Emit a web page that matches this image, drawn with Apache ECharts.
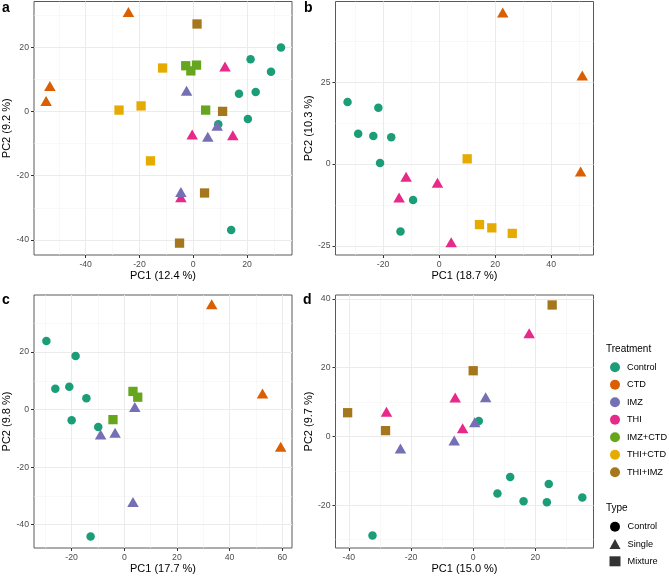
<!DOCTYPE html>
<html>
<head>
<meta charset="utf-8">
<script src="https://cdn.jsdelivr.net/npm/echarts@6/dist/echarts.min.js"></script>
<style>html,body{margin:0;padding:0;background:#fff}#c{width:669px;height:577px}</style>
</head>
<body>
<div id="c"></div>
<script>
// ---------- Data ----------
const treatments = ['Control','CTD','IMZ','THI','IMZ+CTD','THI+CTD','THI+IMZ'];
const treatmentColors = ['#1B9E77','#D95F02','#7570B3','#E7298A','#66A61E','#E6AB02','#A6761D'];
const treatmentTypes = ['Control','Single','Single','Single','Mixture','Mixture','Mixture'];
const typeNames = ['Control','Single','Mixture'];
const panelLetters = ['a','b','c','d'];
const xTitles = ['PC1 (12.4 %)','PC1 (18.7 %)','PC1 (17.7 %)','PC1 (15.0 %)'];
const yTitles = ['PC2 (9.2 %)','PC2 (10.3 %)','PC2 (9.8 %)','PC2 (9.7 %)'];

// panel a
const aControl = [[32.6,19.9],[21.3,16.2],[28.9,12.3],[17.0,5.5],[23.2,6.0],[20.3,-2.4],[9.3,-4.0],[14.1,-36.9]];
const aCTD = [[-24.1,30.9],[-53.3,7.9],[-54.7,3.2]];
const aTHI = [[11.8,14.0],[-0.4,-7.2],[14.7,-7.4],[-4.6,-26.7]];
const aIMZ = [[-2.5,6.4],[8.9,-4.5],[5.4,-7.9],[-4.6,-25.1]];
const aIMZCTD = [[-2.8,14.2],[1.2,14.4],[-0.9,12.6],[4.6,0.4]];
const aTHICTD = [[-11.4,13.5],[-19.4,1.7],[-27.6,0.4],[-15.9,-15.4]];
const aTHIIMZ = [[1.4,27.2],[10.9,0.0],[4.2,-25.4],[-5.1,-41.0]];
// panel b
const bControl = [[-32.7,19.0],[-21.7,17.2],[-28.9,9.3],[-23.5,8.6],[-17.1,8.2],[-21.1,0.3],[-9.3,-11.0],[-13.8,-20.6]];
const bCTD = [[22.7,46.3],[51.1,27.1],[50.5,-2.3]];
const bTHI = [[-11.8,-3.9],[-14.3,-10.2],[-0.6,-5.7],[4.3,-23.9]];
const bTHICTD = [[10.0,1.6],[14.4,-18.5],[18.8,-19.5],[26.1,-21.2]];
// panel c
const cControl = [[-29.6,23.8],[-18.5,18.6],[-26.2,7.2],[-20.9,7.9],[-14.4,3.9],[-20.0,-3.7],[-9.9,-6.1],[-12.8,-44.1]];
const cCTD = [[33.2,36.6],[52.5,5.6],[59.4,-12.9]];
const cIMZ = [[4.0,0.9],[-9.0,-8.7],[-3.5,-8.1],[3.3,-32.1]];
const cIMZCTD = [[3.3,6.3],[5.1,4.3],[-4.3,-3.5]];
// panel d
const dControl = [[1.8,4.5],[11.9,-11.8],[7.8,-16.6],[16.2,-18.8],[24.3,-13.8],[23.7,-19.1],[35.1,-17.7],[-32.4,-28.8]];
const dTHI = [[18.0,30.0],[-5.8,11.3],[-27.9,7.2],[-3.4,2.4]];
const dIMZ = [[4.0,11.4],[0.5,4.1],[-6.1,-1.2],[-23.4,-3.5]];
const dTHIIMZ = [[25.4,38.2],[0.0,19.1],[-40.4,6.9],[-28.2,1.7]];

// axis ranges and breaks
const xMin = [-59.2,-37.0,-34.3,-44.3];
const xMax = [36.7,55.1,63.7,38.7];
const yMin = [-44.7,-27.8,-48.1,-32.4];
const yMax = [34.2,49.7,39.8,41.1];
const xMajor = [[-40,-20,0,20],[-20,0,20,40],[-20,0,20,40,60],[-40,-20,0,20]];
const xMinor = [[-50,-30,-10,10,30],[-30,-10,10,30,50],[-30,-10,10,30,50],[-30,-10,10,30]];
const yMajor = [[-40,-20,0,20],[-25,0,25],[-40,-20,0,20,40],[-20,0,20,40]];
const yMinor = [[-30,-10,10,30],[-12.5,12.5,37.5],[-30,-10,10,30],[-30,-10,10,30]];

// ---------- Build ----------
const panelSeries = [
  {Control:aControl, CTD:aCTD, THI:aTHI, IMZ:aIMZ, 'IMZ+CTD':aIMZCTD, 'THI+CTD':aTHICTD, 'THI+IMZ':aTHIIMZ},
  {Control:bControl, CTD:bCTD, THI:bTHI, 'THI+CTD':bTHICTD},
  {Control:cControl, CTD:cCTD, IMZ:cIMZ, 'IMZ+CTD':cIMZCTD},
  {Control:dControl, THI:dTHI, IMZ:dIMZ, 'THI+IMZ':dTHIIMZ}
];
const drawOrder = ['Control','CTD','THI','IMZ','IMZ+CTD','THI+CTD','THI+IMZ'];
const symbolFor = {Control:'circle', Single:'triangle', Mixture:'rect'};
const sizeFor = {Control:8.5, Single:[11.5,10], Mixture:9.3};

const grids = [
  {left:34, top:1.5, width:258, height:253.5},
  {left:335.5, top:1.5, width:258, height:253.5},
  {left:34, top:295, width:258, height:253},
  {left:335.5, top:295, width:258, height:253}
];

const FONT = 'Liberation Sans, Arial, sans-serif';
const xAxes = [], yAxes = [], series = [];
const majorStyle = {color:'#EBEBEB', width:1, type:'solid'};
const minorStyle = {color:'#F4F4F4', width:0.6, type:'solid'};
for (let p = 0; p < 4; p++) {
  const g = grids[p];
  g.show = true; g.borderColor = '#5a5a5a'; g.borderWidth = 1; g.backgroundColor = '#fff';
  g.containLabel = false;
  xAxes.push({type:'value', gridIndex:p, min:xMin[p], max:xMax[p], position:'bottom',
    name:xTitles[p], nameLocation:'middle', nameGap:15,
    nameTextStyle:{color:'#000', fontSize:11, fontFamily:FONT},
    axisLine:{show:false, onZero:false},
    axisTick:{show:true, length:3, lineStyle:{color:'#333', width:1}, customValues:xMajor[p]},
    axisLabel:{show:true, customValues:xMajor[p], color:'#4D4D4D', fontSize:8.7, fontFamily:FONT, margin:5},
    splitLine:{show:false}});
  yAxes.push({type:'value', gridIndex:p, min:yMin[p], max:yMax[p], position:'left',
    name:yTitles[p], nameLocation:'middle', nameGap:21,
    nameTextStyle:{color:'#000', fontSize:11, fontFamily:FONT},
    axisLine:{show:false, onZero:false},
    axisTick:{show:true, length:3, lineStyle:{color:'#333', width:1}, customValues:yMajor[p]},
    axisLabel:{show:true, customValues:yMajor[p], color:'#4D4D4D', fontSize:8.7, fontFamily:FONT, margin:5},
    splitLine:{show:false}});
  // gridlines through the axis scales (markLine)
  const minorLines = xMinor[p].map(v => ({xAxis:v, lineStyle:minorStyle}))
    .concat(yMinor[p].map(v => ({yAxis:v, lineStyle:minorStyle})));
  const majorLines = xMajor[p].map(v => ({xAxis:v, lineStyle:majorStyle}))
    .concat(yMajor[p].map(v => ({yAxis:v, lineStyle:majorStyle})));
  series.push({type:'scatter', name:'_grid'+p, xAxisIndex:p, yAxisIndex:p, data:[], z:1,
    markLine:{silent:true, animation:false, z:1, symbol:['none','none'], label:{show:false},
      emphasis:{disabled:true}, data:minorLines.concat(majorLines)}});
  drawOrder.forEach(t => {
    const d = panelSeries[p][t];
    if (!d) return;
    const ti = treatments.indexOf(t);
    const ty = treatmentTypes[ti];
    series.push({type:'scatter', name:t, xAxisIndex:p, yAxisIndex:p, data:d,
      symbol:symbolFor[ty], symbolSize:sizeFor[ty],
      itemStyle:{color:treatmentColors[ti], opacity:1}, emphasis:{disabled:true}, z:3});
  });
}
// legend-only series for type entries
series.push({type:'scatter', name:'Single', xAxisIndex:0, yAxisIndex:0, data:[]});
series.push({type:'scatter', name:'Mixture', xAxisIndex:0, yAxisIndex:0, data:[]});

const legendText = {color:'#000', fontSize:9.2, fontFamily:FONT, padding:[0,0,0,2]};
const option = {
  animation:false,
  textStyle:{fontFamily:FONT},
  color:treatmentColors,
  grid:grids,
  xAxis:xAxes,
  yAxis:yAxes,
  series:series,
  legend:[
    {orient:'vertical', left:610, top:362.3, padding:0, itemWidth:10, itemHeight:10, itemGap:7.5,
     selectedMode:false, textStyle:legendText,
     data:treatments.map(t => ({name:t, icon:'circle'}))},
    {orient:'vertical', left:609.5, top:521.7, padding:0, itemWidth:11, itemHeight:10, itemGap:7.3,
     selectedMode:false, textStyle:legendText,
     data:typeNames.map((t,i) => ({name:t, icon:['circle','triangle','rect'][i], itemStyle:{color:'#000'}}))}
  ],
  graphic:[
    {type:'text', left:606, top:344, style:{text:'Treatment', fontSize:10, fill:'#000', fontFamily:FONT}},
    {type:'text', left:606, top:503, style:{text:'Type', fontSize:10, fill:'#000', fontFamily:FONT}},
    {type:'text', left:2, top:1, style:{text:panelLetters[0], fontSize:14, fontWeight:'bold', fill:'#000', fontFamily:FONT}},
    {type:'text', left:304, top:1, style:{text:panelLetters[1], fontSize:14, fontWeight:'bold', fill:'#000', fontFamily:FONT}},
    {type:'text', left:2, top:293, style:{text:panelLetters[2], fontSize:14, fontWeight:'bold', fill:'#000', fontFamily:FONT}},
    {type:'text', left:303, top:293, style:{text:panelLetters[3], fontSize:14, fontWeight:'bold', fill:'#000', fontFamily:FONT}}
  ]
};
const chart = echarts.init(document.getElementById('c'), null, {renderer:'canvas'});
chart.setOption(option);
</script>
</body>
</html>
